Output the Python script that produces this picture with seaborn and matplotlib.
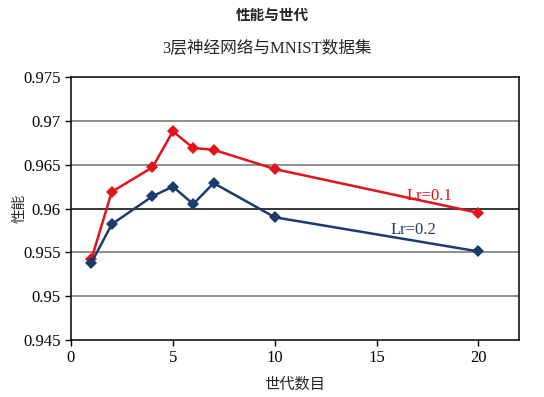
import pandas as pd
import numpy as np
import matplotlib.pyplot as plt
import seaborn as sns

# data
epochs = [1, 2, 4, 5, 6, 7, 10, 20]
perf_lr01 = [0.9542, 0.9619, 0.9647, 0.9688, 0.9669, 0.9667, 0.9645, 0.9595]
perf_lr02 = [0.9538, 0.9582, 0.9614, 0.9625, 0.9605, 0.9629, 0.9590, 0.9551]
series_names = ['Lr=0.1', 'Lr=0.2']
x_ticks = [0, 5, 10, 15, 20]
y_ticks = [0.945, 0.95, 0.955, 0.96, 0.965, 0.97, 0.975]

df = pd.DataFrame({
    'epoch': epochs * 2,
    'perf': perf_lr01 + perf_lr02,
    'lr': [series_names[0]] * len(epochs) + [series_names[1]] * len(epochs),
})

sns.set_style('white')
plt.rcParams['font.family'] = ['Liberation Serif', 'Noto Sans CJK SC']
cjk = ['Noto Sans CJK SC', 'Liberation Serif']

colors = {'Lr=0.1': '#e3131b', 'Lr=0.2': '#1d3a6d'}

fig = plt.figure(figsize=(5.44, 3.97), dpi=100)
ax = fig.add_axes([0.1305, 0.1436, 0.824, 0.6624])

sns.lineplot(data=df, x='epoch', y='perf', hue='lr', palette=colors,
             marker='D', markersize=6, markeredgewidth=0, linewidth=1.8,
             legend=False, ax=ax)

ax.set_xlim(0, 22)
ax.set_ylim(0.945, 0.975)
ax.set_xticks(x_ticks)
ax.set_yticks(y_ticks)
ax.set_yticklabels(['0.945', '0.95', '0.955', '0.96', '0.965', '0.97', '0.975'])
ax.tick_params(axis='both', direction='out', length=4, width=1, labelsize=12,
               left=True, bottom=True, colors='black')

for v in y_ticks[1:-1]:
    ax.axhline(v, color='black' if v == 0.96 else '#707070', linewidth=1.1, zorder=0)

for s in ax.spines.values():
    s.set_color('black')
    s.set_linewidth(1.1)

ax.set_xlabel('世代数目', fontsize=11, family=cjk, labelpad=7)
ax.set_ylabel('')
fig.text(0.036, 0.476, '性能', rotation=90, ha='center', va='center', fontsize=10.5, family=cjk)

ax.text(17.6, 0.9614, series_names[0], color=colors['Lr=0.1'], fontsize=12, ha='center', va='center')
ax.text(16.8, 0.9575, series_names[1], color=colors['Lr=0.2'], fontsize=12, ha='center', va='center')

fig.text(0.5, 0.962, '性能与世代', ha='center', va='center', fontsize=10.5, fontweight='bold', family=cjk)
fig.text(0.49, 0.88, '3层神经网络与MNIST数据集', ha='center', va='center', fontsize=12,
         family=['Liberation Serif', 'Noto Sans CJK SC'])

fig.savefig('out.png', dpi=100)
